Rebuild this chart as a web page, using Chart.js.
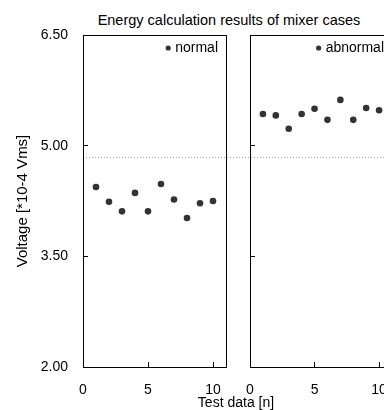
<!DOCTYPE html>
<html>
<head>
<meta charset="utf-8">
<script src="https://cdn.jsdelivr.net/npm/chart.js@4.4.0/dist/chart.umd.min.js"></script>
<style>
  html, body { margin: 0; padding: 0; background: #fff; overflow: hidden; }
  body { width: 384px; height: 410px; position: relative; font-family: 'Liberation Sans', Arial, sans-serif; }
  canvas { position: absolute; top: 0; }
  #normalChart { left: 0; }
  #abnormalChart { left: 236px; }
  .caption { position: absolute; color: #000; white-space: nowrap; transform: translate(-50%, -50%); }
  #chartTitle { left: 229px; top: 20px; font-size: 14.5px; }
  #xTitle { left: 236px; top: 402px; font-size: 14px; }
</style>
</head>
<body>
<div class="caption" id="chartTitle">Energy calculation results of mixer cases</div>
<canvas id="normalChart" width="236" height="410"></canvas>
<canvas id="abnormalChart" width="170" height="410"></canvas>
<div class="caption" id="xTitle">Test data [n]</div>
<script>
const testIndex = [1, 2, 3, 4, 5, 6, 7, 8, 9, 10]
const normalVoltage = [4.44, 4.24, 4.11, 4.36, 4.11, 4.48, 4.27, 4.02, 4.22, 4.25]
const abnormalVoltage = [5.43, 5.41, 5.23, 5.43, 5.50, 5.35, 5.62, 5.35, 5.51, 5.48]
const thresholdVoltage = 4.84
const yTicks = [2.0, 3.5, 5.0, 6.5]
const xTicks = [0, 5, 10]

const fontFamily = "'Liberation Sans', Arial, sans-serif"
const markColor = '#333333'

// box around the plot area, dotted threshold line and the small legend
const panelDecor = {
  id: 'panelDecor',
  beforeDatasetsDraw(chart, args, opts) {
    const { ctx, chartArea: a, scales } = chart
    const y = Math.round(scales.y.getPixelForValue(thresholdVoltage)) + 0.5
    ctx.save()
    ctx.strokeStyle = '#a0a0a0'
    ctx.lineWidth = 1
    ctx.setLineDash([1, 2])
    ctx.beginPath()
    ctx.moveTo(opts.lineFromEdge ? 0 : a.left, y)
    ctx.lineTo(chart.width, y)
    ctx.stroke()
    ctx.restore()
  },
  afterDraw(chart) {
    const { ctx, chartArea: a } = chart
    ctx.save()
    ctx.strokeStyle = '#000'
    ctx.lineWidth = 1
    ctx.strokeRect(Math.round(a.left) + 0.5, Math.round(a.top) + 0.5,
      Math.round(a.right - a.left), Math.round(a.bottom - a.top))

    const label = chart.data.datasets[0].label
    ctx.font = '14px ' + fontFamily
    ctx.fillStyle = '#000'
    ctx.textAlign = 'right'
    ctx.textBaseline = 'middle'
    const textRight = a.right - 8
    const ly = a.top + 13
    ctx.fillText(label, textRight, ly)
    const w = ctx.measureText(label).width
    ctx.fillStyle = markColor
    ctx.beginPath()
    ctx.arc(textRight - w - 7, ly, 2.6, 0, Math.PI * 2)
    ctx.fill()
    ctx.restore()
  },
}

function makePanel(canvasId, label, values, showYLabels) {
  const ctx = document.getElementById(canvasId).getContext('2d')
  return new Chart(ctx, {
    type: 'scatter',
    data: {
      datasets: [
        {
          label: label,
          data: testIndex.map((n, i) => ({ x: n, y: values[i] })),
          backgroundColor: markColor,
          borderColor: markColor,
          borderWidth: 0,
          pointRadius: 3.3,
        },
      ],
    },
    options: {
      responsive: false,
      animation: false,
      layout: { padding: { left: 0, right: showYLabels ? 10 : 14, top: 35, bottom: 0 } },
      plugins: {
        legend: { display: false },
        tooltip: { enabled: false },
        panelDecor: { lineFromEdge: !showYLabels },
      },
      scales: {
        x: {
          type: 'linear',
          min: 0,
          max: 11,
          afterBuildTicks: scale => {
            scale.ticks = xTicks.map(v => ({ value: v }))
          },
          afterFit: scale => {
            // keep the tick labels from pushing the plot area inward
            scale.height = 43
            scale.paddingLeft = 0
            scale.paddingRight = 0
          },
          ticks: {
            color: '#000',
            font: { family: fontFamily, size: 14 },
            padding: 20,
            maxRotation: 0,
          },
          grid: { drawOnChartArea: false, tickLength: -5, color: '#000' },
          border: { display: false },
        },
        y: {
          type: 'linear',
          min: 2,
          max: 6.5,
          afterBuildTicks: scale => {
            scale.ticks = yTicks.map(v => ({ value: v }))
          },
          afterFit: scale => {
            scale.width = showYLabels ? 83 : 14
            scale.paddingTop = 0
            scale.paddingBottom = 0
          },
          ticks: {
            display: showYLabels,
            color: '#000',
            font: { family: fontFamily, size: 14 },
            padding: 20,
            callback: v => v.toFixed(2),
          },
          grid: { drawOnChartArea: false, tickLength: -5, color: '#000' },
          border: { display: false },
          title: {
            display: showYLabels,
            text: 'Voltage [*10-4 Vms]',
            color: '#000',
            font: { family: fontFamily, size: 15 },
            padding: { top: 14, bottom: 0 },
          },
        },
      },
    },
    plugins: [panelDecor],
  })
}

makePanel('normalChart', 'normal', normalVoltage, true)
makePanel('abnormalChart', 'abnormal', abnormalVoltage, false)
</script>
</body>
</html>
